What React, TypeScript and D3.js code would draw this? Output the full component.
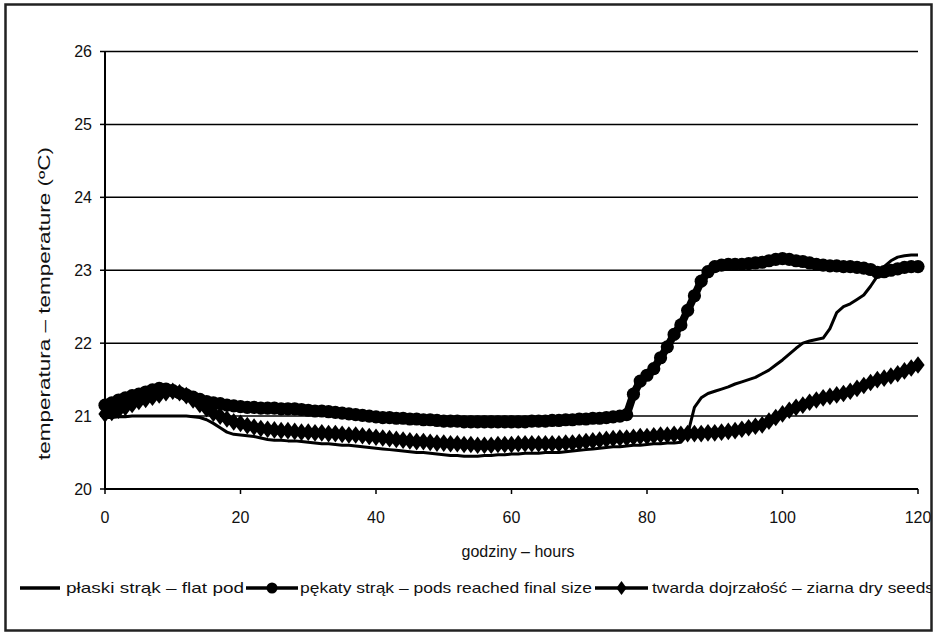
import React from "react";
import * as d3 from "d3";

// Hourly readings, hour 0 … 120
const HOURS: number[] = Array.from({ length: 121 }, (_, i) => i);

// płaski strąk – flat pod
const FLAT_POD: number[] = [
  20.98, 20.98, 20.99, 20.99, 21.0, 21.0, 21.0, 21.0, 21.0, 21.0,
  21.0, 21.0, 21.0, 20.99, 20.98, 20.95, 20.9, 20.84, 20.78, 20.75,
  20.74, 20.73, 20.72, 20.7, 20.68, 20.67, 20.67, 20.66, 20.66, 20.65,
  20.64, 20.63, 20.62, 20.62, 20.61, 20.6, 20.6, 20.59, 20.58, 20.57,
  20.56, 20.55, 20.54, 20.53, 20.52, 20.51, 20.5, 20.5, 20.49, 20.48,
  20.47, 20.46, 20.46, 20.45, 20.45, 20.45, 20.46, 20.46, 20.47, 20.47,
  20.48, 20.48, 20.49, 20.49, 20.49, 20.5, 20.5, 20.5, 20.51, 20.52,
  20.53, 20.54, 20.55, 20.56, 20.57, 20.58, 20.58, 20.59, 20.6, 20.6,
  20.61, 20.62, 20.62, 20.63, 20.63, 20.64, 20.75, 21.12, 21.25, 21.31,
  21.34, 21.37, 21.4, 21.44, 21.47, 21.5, 21.53, 21.58, 21.63, 21.7,
  21.77, 21.85, 21.93, 22.0, 22.03, 22.05, 22.07, 22.2, 22.42, 22.5,
  22.54, 22.6, 22.66, 22.78, 22.92, 23.05, 23.13, 23.18, 23.2, 23.21,
  23.21,
];

// pękaty strąk – pods reached final size
const FULL_POD: number[] = [
  21.15, 21.18, 21.22, 21.25, 21.28, 21.3, 21.33, 21.36, 21.38, 21.37,
  21.35, 21.32, 21.29, 21.26, 21.23, 21.2, 21.18, 21.17, 21.15, 21.14,
  21.13, 21.12, 21.12, 21.11, 21.11, 21.11, 21.1, 21.1, 21.1, 21.09,
  21.08, 21.07, 21.07, 21.06, 21.05, 21.04, 21.03, 21.02, 21.01, 21.0,
  20.99, 20.98, 20.98, 20.97, 20.97, 20.96, 20.96, 20.95, 20.95, 20.94,
  20.93, 20.93, 20.93, 20.92, 20.92, 20.92, 20.92, 20.92, 20.92, 20.92,
  20.92, 20.92, 20.92, 20.93, 20.93, 20.93, 20.94, 20.94, 20.95, 20.95,
  20.96, 20.96, 20.97, 20.97, 20.98, 20.99, 21.0, 21.02, 21.3, 21.48,
  21.56, 21.65, 21.8, 21.95, 22.12, 22.25, 22.45, 22.65, 22.85, 22.98,
  23.05, 23.07, 23.08, 23.08, 23.08, 23.09, 23.1, 23.11, 23.13, 23.15,
  23.16, 23.15, 23.13, 23.12, 23.1, 23.08, 23.07, 23.06, 23.06, 23.05,
  23.05, 23.04, 23.03, 23.01, 22.97, 22.98, 23.0, 23.02, 23.04, 23.05,
  23.05,
];

// twarda dojrzałość – ziarna dry seeds
const DRY_SEEDS: number[] = [
  21.03, 21.05, 21.08, 21.12, 21.16, 21.2, 21.23, 21.26, 21.29, 21.32,
  21.34, 21.32, 21.28, 21.22, 21.16, 21.1, 21.04, 21.0, 20.96, 20.92,
  20.9, 20.87, 20.85, 20.83, 20.82, 20.81, 20.8, 20.8, 20.79, 20.78,
  20.78, 20.77, 20.77, 20.76, 20.76, 20.75, 20.74, 20.74, 20.73, 20.72,
  20.71, 20.7, 20.69, 20.68, 20.67, 20.66, 20.65, 20.65, 20.64, 20.63,
  20.63, 20.62, 20.62, 20.61, 20.61, 20.6, 20.6, 20.6, 20.61, 20.61,
  20.61, 20.62, 20.62, 20.62, 20.62, 20.62, 20.62, 20.62, 20.63, 20.63,
  20.64, 20.65, 20.66, 20.67, 20.68, 20.69, 20.7, 20.7, 20.71, 20.72,
  20.72, 20.73, 20.74, 20.74, 20.75, 20.75, 20.76, 20.76, 20.76, 20.77,
  20.77, 20.78, 20.79, 20.8, 20.82, 20.84, 20.86, 20.88, 20.93, 20.98,
  21.03, 21.08, 21.12, 21.15, 21.19, 21.22, 21.25, 21.27, 21.29, 21.31,
  21.34, 21.38, 21.42, 21.46, 21.5, 21.52, 21.55, 21.58, 21.62, 21.66,
  21.7,
];

const X_TICKS: number[] = [0, 20, 40, 60, 80, 100, 120];
const Y_TICKS: number[] = [20, 21, 22, 23, 24, 25, 26];

const LEGEND_LABELS: string[] = [
  "płaski strąk – flat pod",
  "pękaty strąk – pods reached final size",
  "twarda dojrzałość – ziarna dry seeds",
];

const W = 936;
const H = 635;
const FONT = "'Liberation Sans', Arial, Helvetica, sans-serif";
const INK = "#000";
const TEXT = "#111";

export default function App() {
  const x = d3.scaleLinear().domain([0, 120]).range([105, 918]);
  const y = d3.scaleLinear().domain([20, 26]).range([489, 51.5]);

  const line = d3
    .line<number>()
    .x((_, i) => x(HOURS[i]))
    .y((v) => y(v));

  const diamond = d3.symbol().type(d3.symbolDiamond).size(90)() as string;
  const diamondSmall = d3.symbol().type(d3.symbolDiamond).size(55)() as string;

  const legendY = 588;
  // legend entries: sample start/end and label start/end
  const legend = [
    { x0: 20, x1: 60, t0: 66, t1: 244, marker: "none" },
    { x0: 246, x1: 298, t0: 300, t1: 592, marker: "circle" },
    { x0: 595, x1: 648, t0: 652, t1: 934, marker: "diamond" },
  ];

  return (
    <svg
      width={W}
      height={H}
      viewBox={`0 0 ${W} ${H}`}
      style={{ position: "absolute", left: 0, top: 0, background: "#fff" }}
    >
      <defs>
        <clipPath id="frame-clip">
          <rect x={6} y={5} width={925} height={625} />
        </clipPath>
      </defs>
      <rect x={0} y={0} width={W} height={H} fill="#fff" />

      {/* horizontal grid lines */}
      {Y_TICKS.filter((t) => t !== 20).map((t) => (
        <line
          key={`g${t}`}
          x1={x(0)}
          x2={x(120)}
          y1={y(t)}
          y2={y(t)}
          stroke={INK}
          strokeWidth={1.5}
        />
      ))}

      {/* axes */}
      <line x1={x(0)} x2={x(0)} y1={y(26) - 0.5} y2={y(20) + 1} stroke={INK} strokeWidth={2} />
      <line x1={x(0) - 1} x2={x(120)} y1={y(20)} y2={y(20)} stroke={INK} strokeWidth={2} />
      {Y_TICKS.map((t) => (
        <line key={`yt${t}`} x1={x(0) - 5} x2={x(0)} y1={y(t)} y2={y(t)} stroke={INK} strokeWidth={1.5} />
      ))}
      {X_TICKS.map((t) => (
        <line key={`xt${t}`} x1={x(t)} x2={x(t)} y1={y(20)} y2={y(20) + 5} stroke={INK} strokeWidth={1.5} />
      ))}

      {/* tick labels */}
      {Y_TICKS.map((t) => (
        <text
          key={`yl${t}`}
          x={92}
          y={y(t)}
          dy="0.36em"
          textAnchor="end"
          fontFamily={FONT}
          fontSize={16}
          fill={TEXT}
        >
          {t}
        </text>
      ))}
      {X_TICKS.map((t) => (
        <text
          key={`xl${t}`}
          x={x(t)}
          y={523}
          textAnchor="middle"
          fontFamily={FONT}
          fontSize={16}
          fill={TEXT}
          clipPath="url(#frame-clip)"
        >
          {t}
        </text>
      ))}

      {/* axis titles */}
      <text
        x={518}
        y={557}
        textAnchor="middle"
        fontFamily={FONT}
        fontSize={16}
        fill={TEXT}
      >
        godziny – hours
      </text>
      <text
        transform={`translate(50, 303.5) rotate(-90)`}
        textAnchor="middle"
        fontFamily={FONT}
        fontSize={16}
        fill={TEXT}
        textLength={313}
        lengthAdjust="spacingAndGlyphs"
      >
        temperatura – temperature (ºC)
      </text>

      {/* series */}
      <path d={line(FLAT_POD) || ""} fill="none" stroke={INK} strokeWidth={3} strokeLinejoin="round" />

      <path d={line(FULL_POD) || ""} fill="none" stroke={INK} strokeWidth={8} strokeLinejoin="round" />
      {FULL_POD.map((v, i) => (
        <circle key={`c${i}`} cx={x(HOURS[i])} cy={y(v)} r={6.6} fill={INK} />
      ))}

      <path d={line(DRY_SEEDS) || ""} fill="none" stroke={INK} strokeWidth={8} strokeLinejoin="round" />
      {DRY_SEEDS.map((v, i) => (
        <path key={`d${i}`} d={diamond} transform={`translate(${x(HOURS[i])},${y(v)}) scale(1.3,1)`} fill={INK} />
      ))}

      {/* legend */}
      <g clipPath="url(#frame-clip)">
        {legend.map((e, i) => (
          <g key={`lg${i}`}>
            <line x1={e.x0} x2={e.x1} y1={legendY} y2={legendY} stroke={INK} strokeWidth={3.5} />
            {e.marker === "circle" && (
              <circle cx={(e.x0 + e.x1) / 2} cy={legendY} r={5.5} fill={INK} />
            )}
            {e.marker === "diamond" && (
              <path d={diamondSmall} transform={`translate(${(e.x0 + e.x1) / 2},${legendY}) scale(1.3,1)`} fill={INK} />
            )}
            <text
              x={e.t0}
              y={legendY}
              dy="0.36em"
              fontFamily={FONT}
              fontSize={15}
              fill={TEXT}
              textLength={e.t1 - e.t0}
              lengthAdjust="spacingAndGlyphs"
            >
              {LEGEND_LABELS[i]}
            </text>
          </g>
        ))}
      </g>

      {/* outer frame */}
      <rect x={5.5} y={4.5} width={926} height={626} fill="none" stroke="#222" strokeWidth={2.5} />
    </svg>
  );
}
